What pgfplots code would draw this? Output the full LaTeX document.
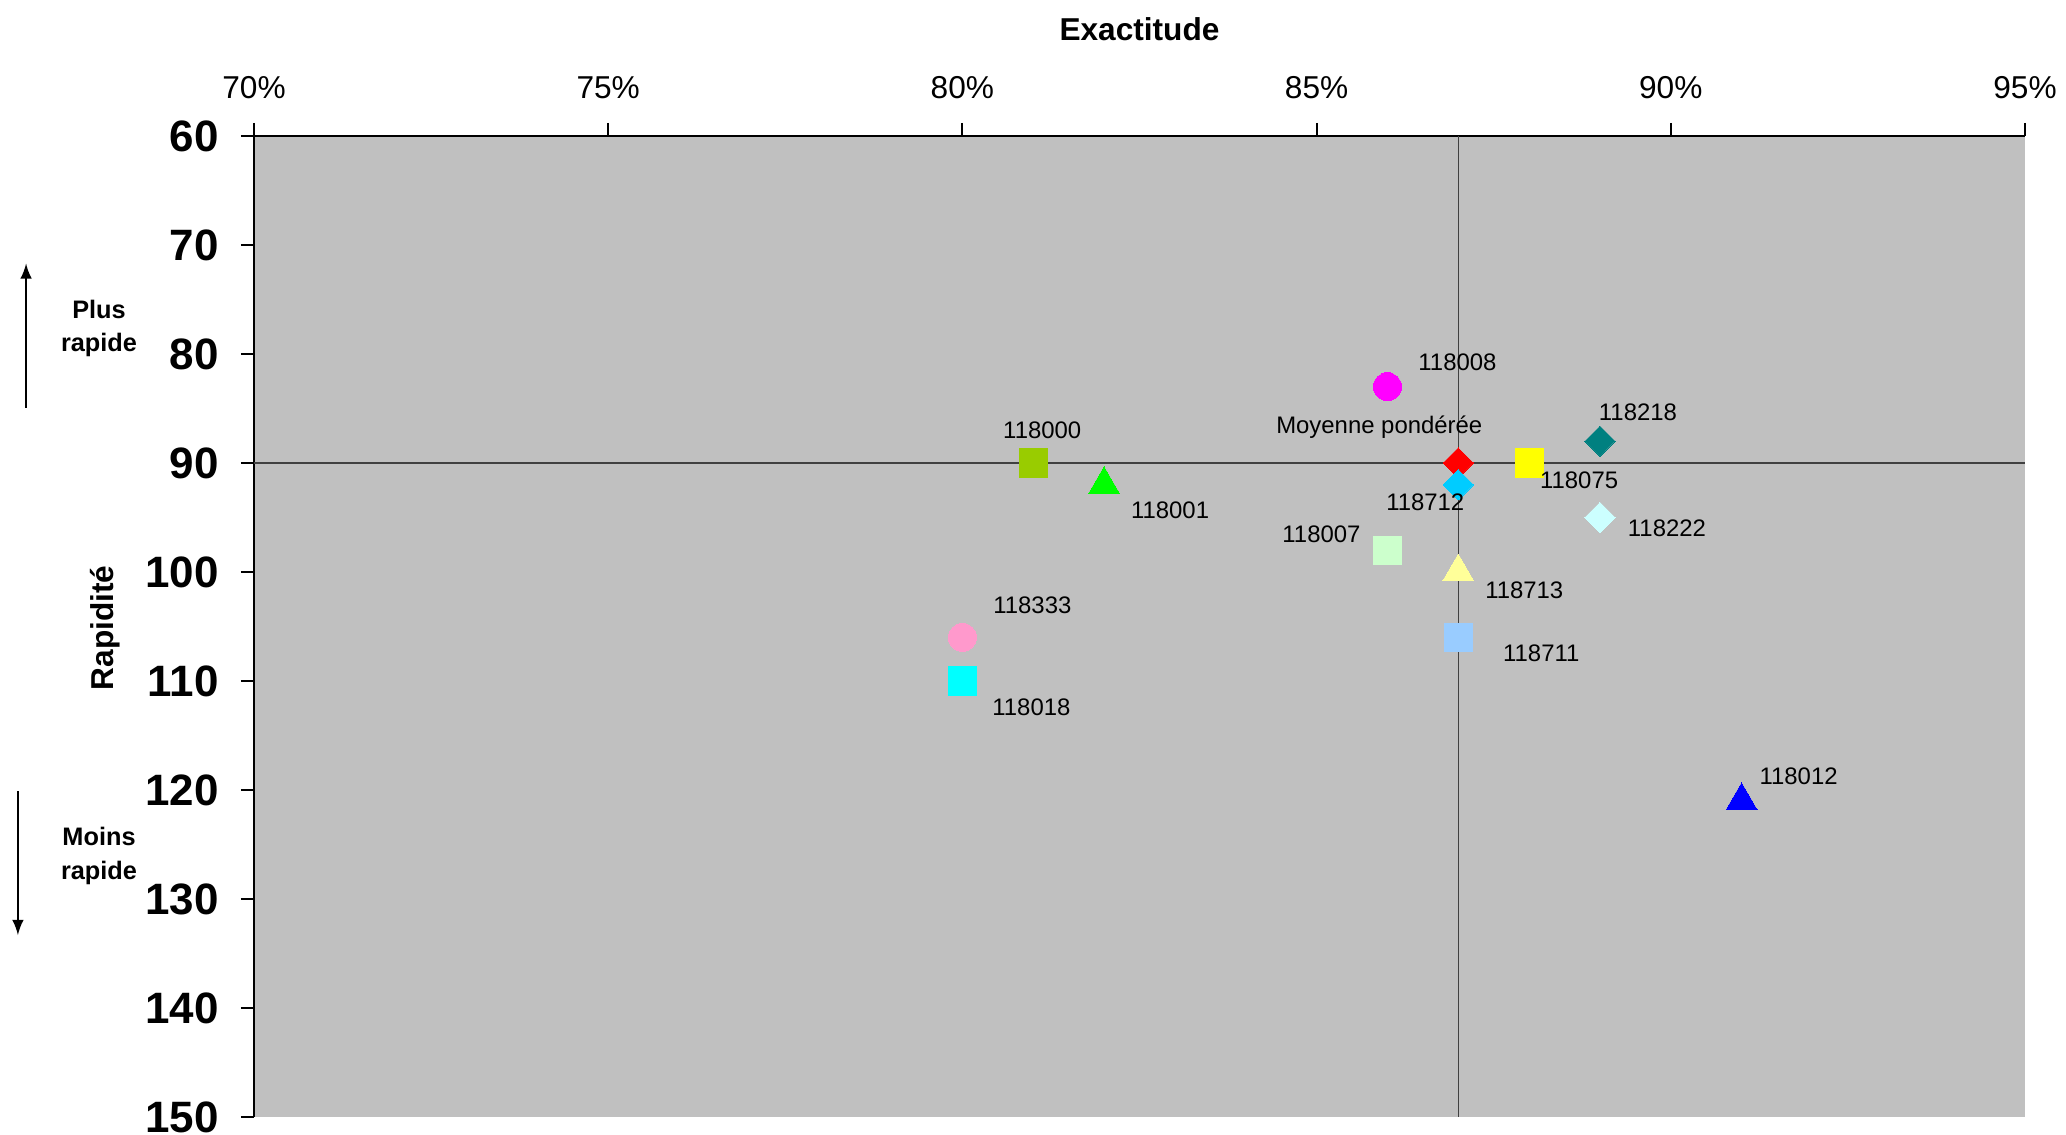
\documentclass[border=0pt]{standalone}
\usepackage{fontspec}
\setmainfont{Liberation Sans}
\usepackage{pgfplots}
\pgfplotsset{compat=1.18}

\definecolor{bg}{RGB}{192,192,192}
\definecolor{c118008}{HTML}{FF00FF}
\definecolor{c118000}{HTML}{99CC00}
\definecolor{c118001}{HTML}{00FF00}
\definecolor{cmoy}{HTML}{FF0000}
\definecolor{c118075}{HTML}{FFFF00}
\definecolor{c118218}{HTML}{008080}
\definecolor{c118712}{HTML}{00CCFF}
\definecolor{c118222}{HTML}{CCFFFF}
\definecolor{c118007}{HTML}{CCFFCC}
\definecolor{c118713}{HTML}{FFFF99}
\definecolor{c118711}{HTML}{99CCFF}
\definecolor{c118333}{HTML}{FF99CC}
\definecolor{c118018}{HTML}{00FFFF}
\definecolor{c118012}{HTML}{0000FF}

\tikzset{
  sq/.style={only marks, color=#1, mark=square*, mark size=4.0pt, mark options={draw=#1, fill=#1, line width=0pt}},
  ci/.style={only marks, color=#1, mark=*, mark size=4.0pt, mark options={draw=#1, fill=#1, line width=0pt}},
  di/.style={only marks, color=#1, mark=diamond*, mark size=4.3pt, mark options={draw=#1, fill=#1, line width=0pt, xscale=1.33}},
  tr/.style={only marks, color=#1, mark=triangle*, mark size=5.1pt, mark options={draw=#1, fill=#1, line width=0pt}},
}
\pgfplotsset{
  lbl/.style n args={3}{nodes near coords={#1},
    nodes near coords style={anchor=center, xshift=#2, yshift=#3, text=black,
      font=\fontsize{6.8}{8}\selectfont}},
}

\begin{document}
\begin{tikzpicture}
\begin{axis}[
  at={(0,0)}, anchor=south west,
  scale only axis,
  width=17.71cm, height=9.81cm,
  xmin=70, xmax=95, ymin=60, ymax=150,
  y dir=reverse,
  axis x line*=top, axis y line*=left,
  axis line style={black, line width=0.6pt},
  axis background/.style={fill=bg},
  xtick={70,75,80,85,90,95},
  xticklabels={70\%,75\%,80\%,85\%,90\%,95\%},
  ytick={60,70,...,150},
  tick align=outside,
  major tick length=0.13cm,
  tick style={black, line width=0.6pt},
  xticklabel style={font=\fontsize{9}{11}\selectfont, yshift=0.12cm},
  yticklabel style={font=\fontsize{12.5}{14}\selectfont\bfseries, xshift=-0.1cm,
    /pgf/number format/assume math mode=true},
  clip=false,
]
  \addplot[ci=c118008, lbl={118008}{0.70cm}{0.24cm}] coordinates {(86,83)};
  \addplot[sq=c118000, lbl={118000}{0.09cm}{0.33cm}] coordinates {(81,90)};
  \addplot[tr=c118001, lbl={118001}{0.66cm}{-0.25cm}] coordinates {(82,92)};
  \addplot[sq=c118075, lbl={118075}{0.50cm}{-0.17cm}] coordinates {(88,90)};
  \addplot[di=c118218, lbl={118218}{0.38cm}{0.29cm}] coordinates {(89,88)};
  \addplot[di=c118222, lbl={118222}{0.67cm}{-0.11cm}] coordinates {(89,95)};
  \addplot[sq=c118007, lbl={118007}{-0.66cm}{0.16cm}] coordinates {(86,98)};
  \addplot[tr=c118713, lbl={118713}{0.66cm}{-0.18cm}] coordinates {(87,100)};
  \addplot[sq=c118711, lbl={118711}{0.83cm}{-0.16cm}] coordinates {(87,106)};
  \addplot[ci=c118333, lbl={118333}{0.70cm}{0.32cm}] coordinates {(80,106)};
  \addplot[sq=c118018, lbl={118018}{0.69cm}{-0.26cm}] coordinates {(80,110)};
  \addplot[tr=c118012, lbl={118012}{0.57cm}{0.25cm}] coordinates {(91,121)};
  \addplot[di=cmoy, lbl={Moyenne pondérée}{-0.79cm}{0.36cm}] coordinates {(87,90)};
  \addplot[di=c118712, lbl={118712}{-0.33cm}{-0.17cm}] coordinates {(87,92)};
  % reference lines (weighted mean)
  \addplot[black!75, line width=0.4pt, no marks] coordinates {(87,60) (87,150)};
  \addplot[black!75, line width=0.4pt, no marks] coordinates {(70,90) (95,90)};

  \node[font=\fontsize{9}{11}\selectfont\bfseries] at (axis description cs:0.5,1.109) {Exactitude};
  \node[font=\fontsize{9}{11}\selectfont\bfseries, rotate=90] at (axis description cs:-0.0841,0.4985) {Rapidité};
  \node[font=\fontsize{7.2}{9.5}\selectfont\bfseries, align=center] at (axis description cs:-0.0875,0.804) {Plus\\rapide};
  \node[font=\fontsize{7.2}{9.5}\selectfont\bfseries, align=center] at (axis description cs:-0.0875,0.266) {Moins\\rapide};
  \draw[-latex, line width=0.5pt] (axis description cs:-0.1287,0.723) -- (axis description cs:-0.1287,0.870);
  \draw[-latex, line width=0.5pt] (axis description cs:-0.1333,0.332) -- (axis description cs:-0.1333,0.1855);
\end{axis}
\pgfresetboundingbox
\useasboundingbox (-2.54,-0.18) rectangle (18.12,11.17);
\end{tikzpicture}
\end{document}
